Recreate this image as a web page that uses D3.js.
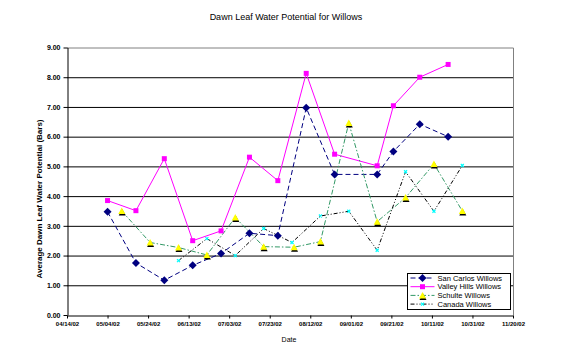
<!DOCTYPE html>
<html>
<head>
<meta charset="utf-8">
<script src="https://cdn.jsdelivr.net/npm/d3@7"></script>
<style>
  body { margin: 0; background: #fff; }
  svg { display: block; font-family: "Liberation Sans", Arial, sans-serif; }
</style>
</head>
<body>
<div id="canvas"></div>
<script>
/**
 * Data
 */
const seriesNames = ["San Carlos Willows", "Valley Hills Willows", "Schulte Willows", "Canada Willows"];

const sanCarlosDates = ["05/04/02", "05/18/02", "06/01/02", "06/15/02", "06/29/02", "07/13/02", "07/27/02",
    "08/10/02", "08/24/02", "09/14/02", "09/22/02", "10/05/02", "10/19/02"];
const sanCarlosValues = [3.47, 1.75, 1.17, 1.67, 2.07, 2.75, 2.67, 6.97, 4.73, 4.73, 5.5, 6.42, 6.0];

const valleyHillsDates = sanCarlosDates;
const valleyHillsValues = [3.85, 3.51, 5.26, 2.5, 2.83, 5.31, 4.52, 8.13, 5.41, 5.02, 7.04, 8.0, 8.43];

const schulteDates = ["05/11/02", "05/25/02", "06/08/02", "06/22/02", "07/06/02", "07/20/02", "08/04/02",
    "08/17/02", "08/31/02", "09/14/02", "09/28/02", "10/12/02", "10/26/02"];
const schulteValues = [3.5, 2.44, 2.27, 2.02, 3.28, 2.3, 2.28, 2.47, 6.46, 3.14, 3.95, 5.08, 3.5];

const canadaDates = ["06/08/02", "06/22/02", "07/06/02", "07/20/02", "08/03/02", "08/17/02", "08/31/02",
    "09/14/02", "09/28/02", "10/12/02", "10/26/02"];
const canadaValues = [1.83, 2.57, 2.0, 2.91, 2.44, 3.33, 3.49, 2.18, 4.82, 3.49, 5.03];

const xTickLabels = ["04/14/02", "05/04/02", "05/24/02", "06/13/02", "07/03/02", "07/23/02",
    "08/12/02", "09/01/02", "09/21/02", "10/11/02", "10/31/02", "11/20/02"];
const yTickValues = [0, 1, 2, 3, 4, 5, 6, 7, 8, 9];

/**
 * Helper Functions
 */
const parseDate = d3.utcParse("%m/%d/%y");

const toPoints = (dates, values) => dates.map((d, i) => ({ date: parseDate(d), value: values[i] }));

const diamond = "M0,-4L4,0L0,4L-4,0Z";
const square = "M-2.5,-2.5H2.5V2.5H-2.5Z";
const triangle = "M0,-3.5L3.5,3L-3.5,3Z";
const cross = "M-1.5,-1.5L1.5,1.5M1.5,-1.5L-1.5,1.5";

// one style block per series, same order as seriesNames
const series = [
    { points: toPoints(sanCarlosDates, sanCarlosValues), color: "#000080", dash: "5,3", marker: "diamond" },
    { points: toPoints(valleyHillsDates, valleyHillsValues), color: "#ff00ff", dash: null, marker: "square" },
    { points: toPoints(schulteDates, schulteValues), color: "#339966", dash: "5,2,1.5,2", marker: "triangle" },
    { points: toPoints(canadaDates, canadaValues), color: "#000000", dash: "4,2,1,2,1,2", marker: "cross" }
];

function drawMarker(g, type) {
    if (type === "diamond") {
        g.append("path").attr("d", diamond).attr("fill", "#000080");
    } else if (type === "square") {
        g.append("path").attr("d", square).attr("fill", "#ff00ff");
    } else if (type === "triangle") {
        // black shadow under the yellow triangle
        g.append("path").attr("d", triangle).attr("fill", "#000").attr("transform", "translate(0.5,1.5)");
        g.append("path").attr("d", triangle).attr("fill", "#ffff00");
    } else {
        g.append("path").attr("d", cross).attr("stroke", "#00ffff").attr("stroke-width", 1.2).attr("fill", "none");
    }
}

function drawChart() {
    const W = 576, H = 354;
    let margin = {top: 47.5, left: 67},
        width = 446,
        height = 267.5;

    let svg = d3.select("#canvas")
        .append("svg")
        .attr("width", W)
        .attr("height", H);

    // title
    svg.append("text")
        .attr("x", 286).attr("y", 20)
        .attr("text-anchor", "middle")
        .attr("font-size", 9)
        .text("Dawn Leaf Water Potential for Willows");

    let g = svg.append("g")
        .attr("transform", "translate(" + margin.left + "," + margin.top + ")");

    let x = d3.scaleUtc()
        .domain([parseDate(xTickLabels[0]), parseDate(xTickLabels[xTickLabels.length - 1])])
        .range([0, width]);

    let y = d3.scaleLinear()
        .domain([0, 9])
        .range([height, 0]);

    // gridlines
    g.append("g")
        .selectAll("line")
        .data(yTickValues.filter(v => v > 0 && v < 9))
        .enter()
        .append("line")
        .attr("x1", 0).attr("x2", width)
        .attr("y1", d => y(d) + 0.5).attr("y2", d => y(d) + 0.5)
        .attr("stroke", "#000")
        .attr("stroke-width", 1);

    // gray plot border (top and right)
    g.append("path")
        .attr("d", "M0," + (y(9) + 0.5) + "H" + (width + 0.5) + "V" + height)
        .attr("fill", "none")
        .attr("stroke", "#808080");

    // x axis
    let xAxis = g.append("g")
        .attr("transform", "translate(0," + (height + 0.5) + ")")
        .call(d3.axisBottom(x)
            .tickValues(xTickLabels.map(parseDate))
            .tickFormat(d3.utcFormat("%m/%d/%y"))
            .tickSize(3)
            .tickSizeOuter(0));
    xAxis.select(".domain").attr("stroke", "#000");
    xAxis.selectAll("text")
        .attr("font-size", 6)
        .attr("font-weight", "bold")
        .attr("font-family", "\"Liberation Sans\", Arial, sans-serif")
        .attr("dy", "0.8em");

    // y axis
    let yAxis = g.append("g")
        .attr("transform", "translate(0.5,0)")
        .call(d3.axisLeft(y)
            .tickValues(yTickValues)
            .tickFormat(d3.format(".2f"))
            .tickSize(4)
            .tickSizeOuter(0));
    yAxis.selectAll("text")
        .attr("font-size", 7)
        .attr("font-weight", "bold")
        .attr("font-family", "\"Liberation Sans\", Arial, sans-serif");

    // axis titles
    svg.append("text")
        .attr("x", 289).attr("y", 342)
        .attr("text-anchor", "middle")
        .attr("font-size", 7)
        .text("Date");

    svg.append("text")
        .attr("transform", "translate(42,199) rotate(-90)")
        .attr("text-anchor", "middle")
        .attr("font-size", 8)
        .attr("font-weight", "bold")
        .text("Average Dawn Leaf Water Potential (Bars)");

    // series lines and markers
    let line = d3.line()
        .x(d => x(d.date))
        .y(d => y(d.value));

    series.forEach(s => {
        g.append("path")
            .datum(s.points)
            .attr("fill", "none")
            .attr("stroke", s.color)
            .attr("stroke-width", 1)
            .attr("stroke-dasharray", s.dash)
            .attr("d", line);
    });

    series.forEach(s => {
        g.append("g")
            .selectAll("g")
            .data(s.points)
            .enter()
            .append("g")
            .attr("transform", d => "translate(" + x(d.date) + "," + y(d.value) + ")")
            .each(function () { drawMarker(d3.select(this), s.marker); });
    });

    // legend
    let legend = svg.append("g").attr("transform", "translate(407.5,273.5)");
    legend.append("rect")
        .attr("width", 103).attr("height", 36)
        .attr("fill", "#fff")
        .attr("stroke", "#000");

    let items = legend.selectAll("g.item")
        .data(series)
        .enter()
        .append("g")
        .attr("class", "item")
        .attr("transform", (d, i) => "translate(0," + (4.5 + i * 8.7) + ")");

    items.append("line")
        .attr("x1", 3).attr("x2", 27)
        .attr("stroke", d => d.color)
        .attr("stroke-dasharray", d => d.dash);
    items.append("g")
        .attr("transform", "translate(15,0)")
        .each(function (d) { drawMarker(d3.select(this), d.marker); });
    items.append("text")
        .attr("x", 30).attr("y", 2.5)
        .attr("font-size", 7.5)
        .text((d, i) => seriesNames[i]);
}

drawChart();
</script>
</body>
</html>
